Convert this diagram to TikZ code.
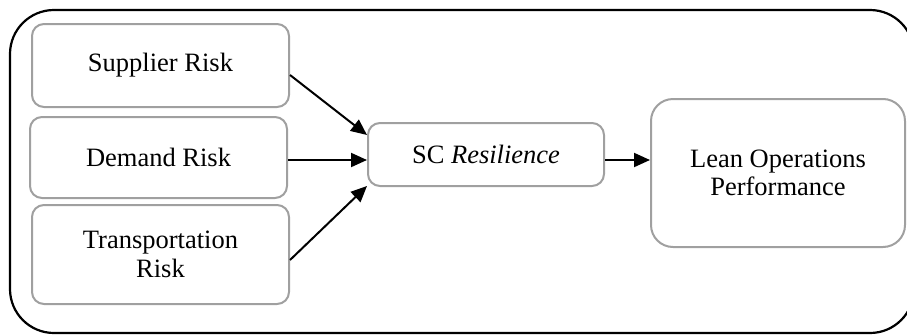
\documentclass[tikz,border=0pt]{standalone}
\usepackage{fontspec}
\setmainfont{Liberation Serif}
\usetikzlibrary{arrows.meta, positioning, calc}
\definecolor{BoxGrey}{RGB}{160,160,160}

\begin{document}
\begin{tikzpicture}[
    x=1pt,
    y=-1pt,
    font=\fontsize{26.5}{28.5}\selectfont,
    riskbox/.style={draw=BoxGrey, line width=2pt, rounded corners=12pt,
      align=center, inner sep=0pt},
    link/.style={-{Triangle[length=16pt,width=14pt]}, line width=2pt}
]
\useasboundingbox (0,0) rectangle (907,335);

% outer frame
\draw[line width=2.2pt, rounded corners=44pt] (10,10) rectangle (914,333);

% risk factors
\node[riskbox, minimum width=257pt, minimum height=83pt] (sup) at (160.5,65.5) {Supplier Risk};
\node[riskbox, minimum width=257pt, minimum height=81pt] (dem) at (158.5,157.5) {Demand Risk};
\node[riskbox, minimum width=257pt, minimum height=99pt] (tra) at (160.5,254.5) {Transportation\\Risk};

% mediator and outcome
\node[riskbox, minimum width=236pt, minimum height=63pt] (res) at (486,154.5) {SC \textit{Resilience}};
\node[riskbox, minimum width=254pt, minimum height=148pt, rounded corners=22pt] (lean) at (778,173) {Lean Operations\\Performance};

% arrows
\draw[link] ([yshift=-9.5pt]sup.east) -- ([yshift=19.5pt]res.west);
\draw[link] ([yshift=-2.5pt]dem.east) -- ([yshift=-5.5pt]res.west);
\draw[link] ([yshift=-5.5pt]tra.east) -- ([yshift=1pt]res.south west);
\draw[link] ([yshift=-5.5pt]res.east) -- ([yshift=13pt]lean.west);

\end{tikzpicture}
\end{document}
